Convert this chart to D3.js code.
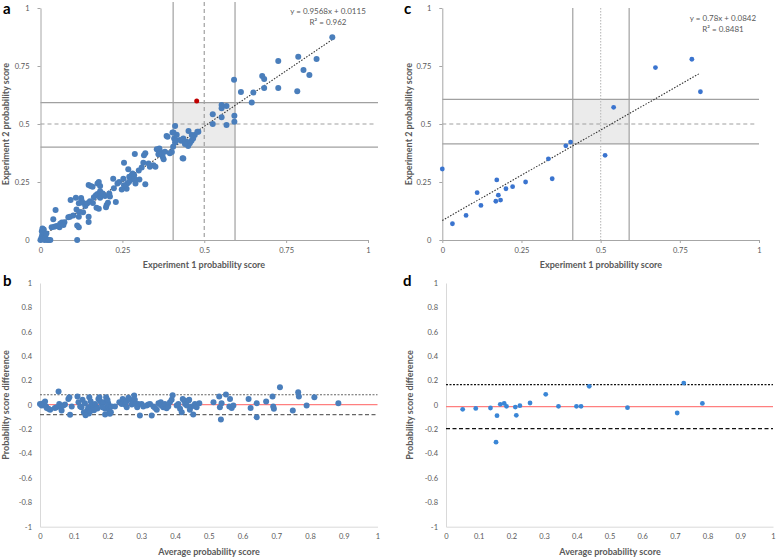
<!DOCTYPE html>
<html>
<head>
<meta charset="utf-8">
<script src="https://cdn.jsdelivr.net/npm/d3@7"></script>
<style>
body { margin: 0; background: #fff; }
text { font-family: Lato, "Open Sans", sans-serif; }
</style>
</head>
<body>
<svg id="fig" width="778" height="559"></svg>
<script>
// ---- data ----
// panel a: experiment 1 vs experiment 2 probability score
const aPoints = [
  [0,0],[0.003,0.01],[0.005,0.02],[0.008,0.005],[0.01,0.03],[0.012,0],[0.015,0.012],[0.02,0],[0.025,0],[0.03,0],
  [0.004,0.038],[0.01,0.045],[0.018,0.028],[0.006,0.05],[0.112,0],[0.039,0.089],[0.046,0.129],[0.034,0.055],
  [0.042,0.057],[0.049,0.06],[0.058,0.055],[0.065,0.075],[0.073,0.076],[0.085,0.098],[0.092,0.172],[0.1,0.106],
  [0.108,0.182],[0.117,0.158],[0.124,0.181],[0.112,0.063],[0.117,0.055],[0.11,0.132],[0.118,0.121],[0.117,0.1],
  [0.129,0.161],[0.137,0.147],[0.125,0.172],[0.147,0.237],[0.153,0.233],[0.159,0.23],[0.147,0.1],[0.147,0.078],
  [0.143,0.158],[0.151,0.167],[0.163,0.184],[0.169,0.193],[0.174,0.198],[0.171,0.139],[0.178,0.135],[0.182,0.21],
  [0.182,0.182],[0.187,0.193],[0.174,0.244],[0.182,0.233],[0.178,0.25],[0.197,0.19],[0.202,0.151],[0.2,0.141],
  [0.206,0.161],[0.212,0.187],[0.23,0.164],[0.222,0.264],[0.224,0.223],[0.235,0.244],[0.253,0.264],[0.258,0.23],
  [0.263,0.221],[0.265,0.244],[0.248,0.218],[0.255,0.236],[0.271,0.273],[0.275,0.259],[0.279,0.28],[0.268,0.305],
  [0.281,0.287],[0.288,0.261],[0.29,0.244],[0.286,0.279],[0.255,0.333],[0.288,0.371],[0.302,0.261],[0.309,0.313],
  [0.314,0.333],[0.316,0.365],[0.32,0.374],[0.32,0.24],[0.334,0.316],[0.345,0.322],[0.351,0.316],[0.355,0.391],
  [0.363,0.394],[0.367,0.379],[0.373,0.359],[0.376,0.348],[0.37,0.368],[0.385,0.448],[0.395,0.374],[0.401,0.379],
  [0.405,0.402],[0.411,0.42],[0.408,0.438],[0.414,0.431],[0.434,0.352],[0.451,0.405],[0.456,0.417],[0.461,0.428],
  [0.446,0.424],[0.436,0.437],[0.431,0.428],[0.416,0.454],[0.403,0.463],[0.426,0.431],[0.441,0.414],[0.466,0.438],
  [0.482,0.467],[0.471,0.453],[0.06,0.07],[0.07,0.065],[0.09,0.1],[0.13,0.12],[0.16,0.16],[0.19,0.2],[0.21,0.2],
  [0.24,0.25],[0.27,0.25],[0.3,0.3],[0.33,0.33],[0.36,0.37],[0.38,0.38],[0.411,0.491],[0.406,0.463],[0.388,0.445],
  [0.452,0.47],[0.462,0.453],[0.479,0.467],[0.526,0.5],[0.568,0.496],[0.592,0.51],[0.526,0.542],[0.553,0.529],
  [0.592,0.536],[0.553,0.582],[0.553,0.568],[0.568,0.578],[0.436,0.351],[0.645,0.593],[0.65,0.636],[0.612,0.638],
  [0.591,0.691],[0.683,0.655],[0.726,0.655],[0.784,0.641],[0.677,0.707],[0.683,0.694],[0.803,0.733],[0.821,0.711],
  [0.726,0.772],[0.787,0.79],[0.843,0.78],[0.891,0.874]
];
const aHighlight = [[0.477, 0.599]];
const aFit = [0.9568, 0.0115];           // slope, intercept
const aFitRange = [0, 0.89];
const aBandX = [0.405, 0.594];
const aBandY = [0.4, 0.592];
const aEquation = ["y = 0.9568x + 0.0115", "R² = 0.962"];

// panel c
const cPoints = [
  [0,0.306],[0.032,0.07],[0.075,0.106],[0.11,0.204],[0.122,0.149],[0.169,0.167],[0.172,0.259],[0.177,0.193],
  [0.184,0.172],[0.201,0.221],[0.222,0.23],[0.263,0.25],[0.335,0.35],[0.347,0.264],[0.39,0.406],[0.405,0.422],
  [0.514,0.365],[0.541,0.572],[0.673,0.743],[0.788,0.779],[0.815,0.639]
];
const cFit = [0.78, 0.0842];
const cFitRange = [0, 0.81];
const cBandX = [0.412, 0.59];
const cBandY = [0.414, 0.606];
const cEquation = ["y = 0.78x + 0.0842", "R² = 0.8481"];

// panel b: average vs difference
const bPoints = [
  [0,0.008],[0.005,-0.005],[0.01,0.014],[0.015,0.027],[0.018,-0.014],[0.02,-0.025],[0.025,-0.033],[0.03,-0.041],
  [0.044,-0.025],[0.049,-0.019],[0.055,0.11],[0.057,0.008],[0.059,-0.014],[0.064,-0.047],[0.069,-0.005],[0.074,0.003],
  [0.084,0.049],[0.087,0.063],[0.089,-0.082],[0.094,-0.014],[0.111,0.068],[0.114,0.022],[0.119,-0.014],[0.123,-0.019],
  [0.126,0.041],[0.133,0.014],[0.136,-0.074],[0.14,-0.047],[0.143,-0.019],[0.146,0.063],[0.15,0.03],[0.153,0.003],
  [0.158,-0.033],[0.163,0.008],[0.168,-0.019],[0.173,0.049],[0.176,0.063],[0.178,0.03],[0.183,0.008],[0.188,0.022],
  [0.193,-0.033],[0.193,-0.079],[0.196,0.063],[0.2,-0.014],[0.202,0.014],[0.205,-0.047],[0.207,-0.074],[0.212,-0.014],
  [0.222,-0.014],[0.235,0.022],[0.242,0.008],[0.245,0.049],[0.249,0.036],[0.252,0.003],[0.255,0.022],[0.257,-0.019],
  [0.262,0.058],[0.267,0.041],[0.272,0.003],[0.277,0.022],[0.279,0.077],[0.281,0.041],[0.284,0.008],[0.288,-0.019],
  [0.291,0.008],[0.296,-0.088],[0.301,0.008],[0.306,-0.014],[0.316,-0.005],[0.321,0.003],[0.326,0.008],[0.331,-0.088],
  [0.336,-0.014],[0.341,-0.025],[0.346,-0.041],[0.351,0.014],[0.354,0.008],[0.358,0.022],[0.36,-0.005],[0.365,-0.019],
  [0.37,0.008],[0.375,-0.027],[0.38,-0.014],[0.385,0.022],[0.39,0.041],[0.393,0.079],[0.405,-0.005],[0.41,0.008],
  [0.415,-0.033],[0.42,-0.06],[0.423,0.049],[0.427,0.036],[0.43,0.008],[0.435,-0.005],[0.44,0.036],[0.442,0.041],
  [0.444,-0.041],[0.449,-0.014],[0.454,-0.079],[0.459,0.008],[0.464,-0.019],[0.472,0.014],[0.514,0.022],[0.531,0.068],
  [0.533,-0.019],[0.536,-0.12],[0.538,0.014],[0.551,0.085],[0.563,0.049],[0.561,-0.014],[0.568,-0.025],[0.573,-0.005],
  [0.618,0.049],[0.624,-0.025],[0.642,0.014],[0.642,-0.101],[0.67,0.027],[0.689,0.068],[0.691,-0.014],[0.693,-0.033],
  [0.711,0.145],[0.749,-0.047],[0.765,0.104],[0.767,0.068],[0.79,-0.005],[0.813,0.063],[0.884,0.014],
  [0.13,-0.06],[0.145,-0.07],[0.15,-0.05],[0.16,-0.045],[0.135,-0.085],[0.17,-0.03],[0.185,-0.02],[0.2,0.04],[0.21,-0.06]
];
const bLimits = [0.083, 0.002, -0.08];   // upper, mean, lower

// panel d
const dPoints = [
  [0.051,-0.037],[0.091,-0.029],[0.136,-0.026],[0.156,-0.089],[0.153,-0.306],[0.166,0.004],[0.178,0.012],
  [0.185,-0.012],[0.212,-0.018],[0.215,-0.086],[0.226,-0.007],[0.257,0.015],[0.305,0.086],[0.344,-0.012],
  [0.399,-0.012],[0.413,-0.012],[0.438,0.152],[0.555,-0.023],[0.707,-0.067],[0.727,0.179],[0.784,0.012]
];
const dLimits = [0.166, -0.015, -0.195];

const scoreTicks = [0, 0.25, 0.5, 0.75, 1];
const diffTicks = [-1, -0.8, -0.6, -0.4, -0.2, 0, 0.2, 0.4, 0.6, 0.8, 1];
const avgTicks = [0, 0.1, 0.2, 0.3, 0.4, 0.5, 0.6, 0.7, 0.8, 0.9, 1];

const svg = d3.select("#fig");
const grey = "#595959";

function letter(txt, x, y) {
  svg.append("text").attr("x", x).attr("y", y).text(txt)
    .attr("font-family", "Liberation Sans, Arial, sans-serif")
    .attr("font-weight", "bold").attr("font-size", 15).attr("fill", "#000");
}

function styleAxis(g, col) {
  g.select(".domain").attr("stroke", col);
  g.selectAll(".tick line").attr("stroke", col);
  g.selectAll(".tick text").attr("fill", grey).attr("font-size", 7.5)
    .attr("font-family", "Lato, 'Open Sans', sans-serif");
}

function title(txt, x, y, rot) {
  svg.append("text").text(txt)
    .attr("transform", `translate(${x},${y})` + (rot ? " rotate(-90)" : ""))
    .attr("text-anchor", "middle").attr("font-size", 9).attr("font-weight", "bold").attr("fill", grey);
}

// scatter panels (a, c)
function scatter(cfg) {
  const x = d3.scaleLinear().domain([0, 1]).range(cfg.xr);
  const y = d3.scaleLinear().domain([0, 1]).range([240, 8]);
  const g = svg.append("g");

  g.append("rect")
    .attr("x", x(cfg.bandX[0])).attr("width", x(cfg.bandX[1]) - x(cfg.bandX[0]))
    .attr("y", y(cfg.bandY[1])).attr("height", y(cfg.bandY[0]) - y(cfg.bandY[1]))
    .attr("fill", "#ebebeb");

  const line = (x1, y1, x2, y2, dash, col) => g.append("line")
    .attr("x1", x1).attr("y1", y1).attr("x2", x2).attr("y2", y2)
    .attr("stroke", col || "#a0a0a0").attr("stroke-width", 1.2)
    .attr("stroke-dasharray", dash || null);

  cfg.bandX.forEach(v => line(x(v), cfg.vTop, x(v), y(0)));
  cfg.bandY.forEach(v => line(x(0), y(v), cfg.hRight, y(v)));
  line(x(0), y(0.5), cfg.hRight - 4, y(0.5), "4,3");
  line(x(0.5), cfg.vTop, x(0.5), y(0), cfg.midDash, cfg.midCol);

  const ax = g.append("g").attr("transform", "translate(0,240)")
    .call(d3.axisBottom(x).tickValues(scoreTicks).tickFormat(d => String(d)).tickSize(3).tickSizeOuter(0).tickPadding(5));
  const ay = g.append("g").attr("transform", `translate(${cfg.xr[0]},0)`)
    .call(d3.axisLeft(y).tickValues(scoreTicks).tickFormat(d => String(d)).tickSize(3).tickSizeOuter(0).tickPadding(8));
  styleAxis(ax, "#a6a6a6");
  styleAxis(ay, "#a6a6a6");

  g.append("line")
    .attr("x1", x(cfg.fitRange[0])).attr("y1", y(cfg.fit[0] * cfg.fitRange[0] + cfg.fit[1]))
    .attr("x2", x(cfg.fitRange[1])).attr("y2", y(cfg.fit[0] * cfg.fitRange[1] + cfg.fit[1]))
    .attr("stroke", "#333").attr("stroke-width", 1.1).attr("stroke-dasharray", "1.5,1.5");

  g.selectAll("circle.pt").data(cfg.points).join("circle").attr("class", "pt")
    .attr("cx", d => x(d[0])).attr("cy", d => y(d[1])).attr("r", cfg.r).attr("fill", cfg.col);
  if (cfg.highlight) g.selectAll("circle.hl").data(cfg.highlight).join("circle").attr("class", "hl")
    .attr("cx", d => x(d[0])).attr("cy", d => y(d[1])).attr("r", 2.5).attr("fill", "#c00000");

  cfg.equation.forEach((t, i) => g.append("text").text(t)
    .attr("x", cfg.eqX).attr("y", cfg.eqY + i * 10.5).attr("text-anchor", "middle")
    .attr("font-size", 8).attr("fill", grey));
}

// difference panels (b, d)
function diffPanel(cfg) {
  const x = d3.scaleLinear().domain([0, 1]).range(cfg.xr);
  const y = d3.scaleLinear().domain([-1, 1]).range([526.7, 283]);
  const g = svg.append("g");

  const ax = g.append("g").attr("transform", `translate(0,${y(-1)})`)
    .call(d3.axisBottom(x).tickValues(avgTicks).tickFormat(d => String(d)).tickSize(0).tickPadding(7));
  const ay = g.append("g").attr("transform", `translate(${cfg.xr[0]},0)`)
    .call(d3.axisLeft(y).tickValues(diffTicks).tickFormat(d => String(d)).tickSize(0).tickPadding(8));
  styleAxis(ax, "#d9d9d9");
  styleAxis(ay, "#d9d9d9");

  const hl = (v, col, w, dash) => g.append("line")
    .attr("x1", x(0)).attr("x2", x(1)).attr("y1", y(v)).attr("y2", y(v))
    .attr("stroke", col).attr("stroke-width", w).attr("stroke-dasharray", dash || null);
  hl(cfg.limits[0], cfg.limCol, cfg.limW, "2,1.5");
  hl(cfg.limits[1], "#ff7f7f", 1.2);
  hl(cfg.limits[2], cfg.limCol, cfg.limW, "4,2.5");

  g.selectAll("circle").data(cfg.points).join("circle")
    .attr("cx", d => x(d[0])).attr("cy", d => y(d[1])).attr("r", cfg.r).attr("fill", cfg.col);
}

scatter({ xr: [40.5, 368], points: aPoints, highlight: aHighlight, fit: aFit, fitRange: aFitRange,
  bandX: aBandX, bandY: aBandY, vTop: 2, hRight: 378, midDash: "4,3", midCol: "#a0a0a0",
  r: 3, col: "#4a7ebb", equation: aEquation, eqX: 328, eqY: 14 });
scatter({ xr: [442.3, 759], points: cPoints, fit: cFit, fitRange: cFitRange,
  bandX: cBandX, bandY: cBandY, vTop: 8, hRight: 759, midDash: "1.5,1.5", midCol: "#c0c0c0",
  r: 2.4, col: "#3a74cf", equation: cEquation, eqX: 723, eqY: 21 });

diffPanel({ xr: [40, 377.5], points: bPoints, limits: bLimits, limCol: "#666", limW: 1.1, r: 3, col: "#4a7ebb" });
diffPanel({ xr: [446, 773], points: dPoints, limits: dLimits, limCol: "#111", limW: 1.4, r: 2.4, col: "#3a86d6" });

title("Experiment 2 probability score", 9, 124, true);
title("Experiment 1 probability score", 204, 268, false);
title("Experiment 2 probability score", 412, 124, true);
title("Experiment 1 probability score", 601, 268, false);
title("Probability score difference", 9, 405, true);
title("Average probability score", 209, 555, false);
title("Probability score difference", 413, 405, true);
title("Average probability score", 610, 555, false);

letter("a", 3, 14);
letter("b", 3, 286);
letter("c", 404, 14);
letter("d", 403, 286);
</script>
</body>
</html>
